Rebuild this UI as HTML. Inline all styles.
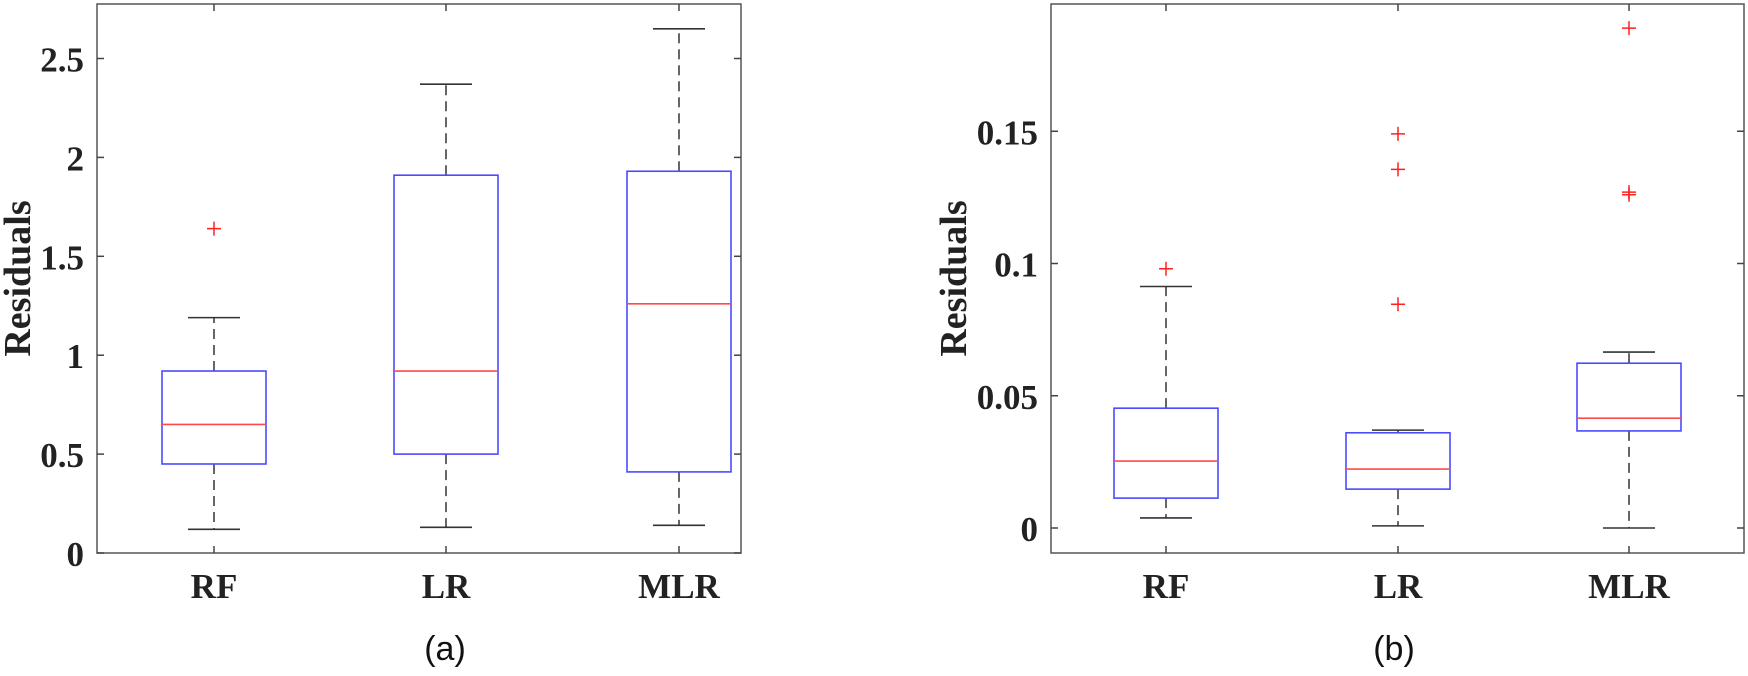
<!DOCTYPE html>
<html><head><meta charset="utf-8"><style>
html,body{margin:0;padding:0;background:#fff;}
svg{display:block;}
</style></head><body>
<svg id="chart" width="1748" height="676" xmlns="http://www.w3.org/2000/svg"></svg>
<script>
const categories = ["RF","LR","MLR"];
// panel (a)
const aLow = [0.12, 0.13, 0.14];
const aQ1 = [0.45, 0.50, 0.41];
const aMed = [0.65, 0.92, 1.26];
const aQ3 = [0.92, 1.91, 1.93];
const aHigh = [1.19, 2.37, 2.65];
const aOut = [[1.64], [], []];
const aTicks = [0, 0.5, 1, 1.5, 2, 2.5];
const aTickLabels = ["0","0.5","1","1.5","2","2.5"];
// panel (b)
const bLow = [0.0038, 0.0008, 0.0];
const bQ1 = [0.0113, 0.0147, 0.0367];
const bMed = [0.0253, 0.0223, 0.0415];
const bQ3 = [0.0453, 0.0360, 0.0623];
const bHigh = [0.0913, 0.0370, 0.0665];
const bOut = [[0.098], [0.0846, 0.1356, 0.149], [0.126, 0.127, 0.189]];
const bTicks = [0, 0.05, 0.1, 0.15];
const bTickLabels = ["0","0.05","0.1","0.15"];

const NS = "http://www.w3.org/2000/svg";
const svg = document.getElementById("chart");
function mk(tag, attrs, parent){
  const e = document.createElementNS(NS, tag);
  for (const k in attrs) e.setAttribute(k, attrs[k]);
  (parent||svg).appendChild(e);
  return e;
}
const TF = '"Liberation Serif", serif';

function panel(p){
  const g = mk("g", {});
  
  
  const y = v => p.y0 - v * p.k;
  const xs = i => p.cx[i];
  const fr = mk("rect", {x:p.L, y:p.T, width:p.R-p.L, height:p.B-p.T, fill:"none", stroke:"#555", "stroke-width":1.5}, g);
  
  
  p.ticks.forEach((t, i) => {
    const yy = y(t);
    mk("line", {x1:p.L, x2:p.L+7, y1:yy, y2:yy, stroke:"#444", "stroke-width":1.5}, g);
    mk("line", {x1:p.R-7, x2:p.R, y1:yy, y2:yy, stroke:"#444", "stroke-width":1.5}, g);
    const tx = mk("text", {x:p.L-13, y:yy+13, "text-anchor":"end", "font-family":TF, "font-weight":"bold", "font-size":35, fill:"#222"}, g);
    tx.textContent = p.tickLabels[i];
    
    
  });
  categories.forEach((c, i) => {
    const x = xs(i);
    mk("line", {x1:x, x2:x, y1:p.B, y2:p.B-7, stroke:"#444", "stroke-width":1.5}, g);
    mk("line", {x1:x, x2:x, y1:p.T, y2:p.T+7, stroke:"#444", "stroke-width":1.5}, g);
    const tx = mk("text", {x:x, y:598, "text-anchor":"middle", "font-family":TF, "font-weight":"bold", "font-size":35, fill:"#222"}, g);
    tx.textContent = c;
    
    
  });
  categories.forEach((c, i) => {
    const x = xs(i), hw = 52, cw = 26;
    const bg = mk("g", {}, g);
    
    
    mk("line", {x1:x, x2:x, y1:y(p.q3[i]), y2:y(p.high[i]), stroke:"#333", "stroke-width":1.5, "stroke-dasharray":"10,6"}, bg);
    mk("line", {x1:x, x2:x, y1:y(p.q1[i]), y2:y(p.low[i]), stroke:"#333", "stroke-width":1.5, "stroke-dasharray":"10,6"}, bg);
    mk("line", {x1:x-cw, x2:x+cw, y1:y(p.high[i]), y2:y(p.high[i]), stroke:"#333", "stroke-width":1.6}, bg);
    mk("line", {x1:x-cw, x2:x+cw, y1:y(p.low[i]), y2:y(p.low[i]), stroke:"#333", "stroke-width":1.6}, bg);
    mk("rect", {x:x-hw, y:y(p.q3[i]), width:2*hw, height:y(p.q1[i])-y(p.q3[i]), fill:"none", stroke:"#4a4aff", "stroke-width":1.6}, bg);
    mk("line", {x1:x-hw, x2:x+hw, y1:y(p.med[i]), y2:y(p.med[i]), stroke:"#ff4a4a", "stroke-width":1.6}, bg);
    p.out[i].forEach(v => {
      const o = mk("path", {d:`M${x-7},${y(v)}H${x+7}M${x},${y(v)-7}V${y(v)+7}`, stroke:"#ff2020", "stroke-width":1.5, fill:"none"}, bg);
      
      
    });
  });
  const yl = mk("text", {x:0, y:0, transform:`translate(${p.ylx},${(p.T+p.B)/2}) rotate(-90)`, "text-anchor":"middle", "font-family":TF, "font-weight":"bold", "font-size":38, fill:"#222"}, g);
  yl.textContent = "Residuals";
  
  
  const cap = mk("text", {x:p.capx, y:660, "text-anchor":"middle", "font-family":'"Liberation Sans", sans-serif', "font-size":34, fill:"#111"}, g);
  cap.textContent = p.cap;
  
  
}

panel({name:"panel-a", L:97, R:741, T:4, B:553, y0:553, k:197.8, cx:[214,446,679],
  ticks:aTicks, tickLabels:aTickLabels, low:aLow, q1:aQ1, med:aMed, q3:aQ3, high:aHigh, out:aOut,
  ylx:30, capx:445, cap:"(a)"});
panel({name:"panel-b", L:1051, R:1744, T:4, B:553, y0:528, k:2645, cx:[1166,1398,1629],
  ticks:bTicks, tickLabels:bTickLabels, low:bLow, q1:bQ1, med:bMed, q3:bQ3, high:bHigh, out:bOut,
  ylx:966, capx:1394, cap:"(b)"});
</script>
</body></html>
